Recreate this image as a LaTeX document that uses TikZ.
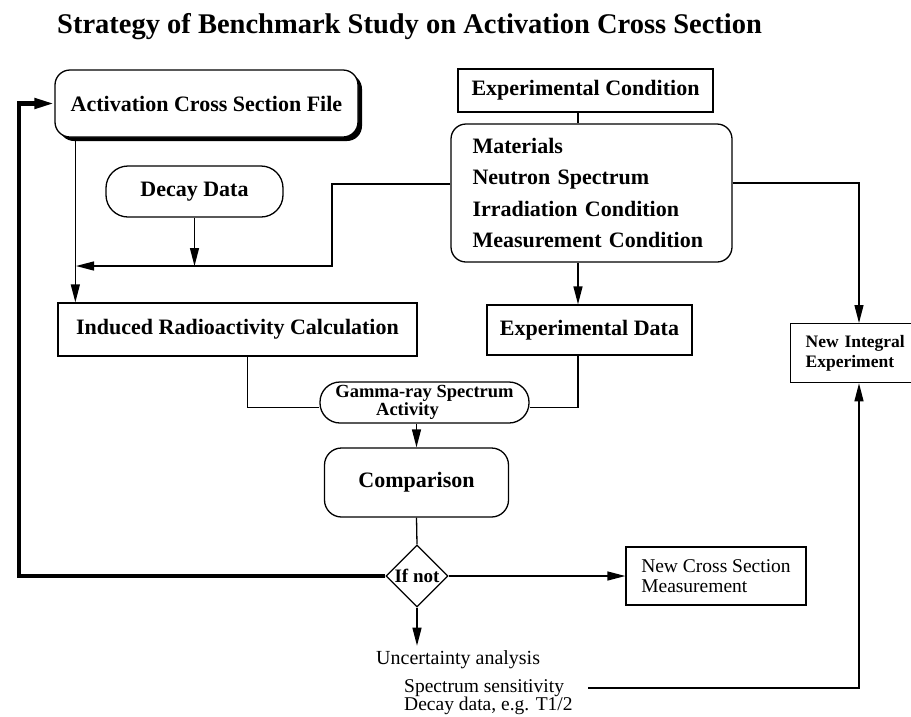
\documentclass[tikz,border=0pt]{standalone}
\usepackage{fontspec}
\setmainfont{Liberation Serif}
\usetikzlibrary{arrows.meta,shapes.geometric,shadows}
\begin{document}
\begin{tikzpicture}[x=1pt,y=-1pt,
  line/.style={line width=1.3pt},
  arr/.style={line width=1.3pt,-{Triangle[length=18pt,width=9pt]}},
  thickarr/.style={line width=4.5pt,-{Triangle[length=20pt,width=10pt]}},
  box/.style={draw,line width=1.3pt,rectangle,inner sep=0pt,fill=white},
  rbox/.style={box,rounded corners=15pt},
  bf/.style={font=\bfseries\fontsize{22}{26}\selectfont},
  rm/.style={font=\fontsize{19.5}{19.5}\selectfont},
  ]
\useasboundingbox (0,0) rectangle (911,716);
\clip (0,0) rectangle (911,716);
\node[anchor=base west, font=\bfseries\fontsize{28.5}{30}\selectfont, inner sep=0pt] (title) at (57,33) {Strategy of Benchmark Study on Activation Cross Section};

\node[rbox, bf, minimum width=303pt, minimum height=67pt,
  drop shadow={shadow xshift=4pt,shadow yshift=-4pt,fill=black,opacity=1}] (acs) at (206.5,103.5) {Activation Cross Section File};
\node[box, bf, rounded corners=22pt, minimum width=177pt, minimum height=51pt] (decay) at (194.5,191.5) {Decay Data};
\node[box, bf, minimum width=255pt, minimum height=43pt] (ec) at (585.5,90.5) {Experimental Condition};
\node[rbox, font=\bfseries\fontsize{22}{31.5}\selectfont, minimum width=281pt, minimum height=138pt,
  text width=238pt, inner xsep=21.5pt, align=left] (mat) at (591.5,193)
  {Materials\\Neutron Spectrum\\Irradiation Condition\\Measurement Condition};
\node[box, bf, minimum width=359pt, minimum height=53pt] (ind) at (237.5,329.5) {Induced Radioactivity Calculation};
\node[box, bf, minimum width=205pt, minimum height=50pt] (ed) at (589.5,330) {Experimental Data};
\node[box, font=\bfseries\fontsize{18.5}{16.5}\selectfont, rounded corners=20pt, minimum width=209pt, minimum height=41pt, align=center] (gam) at (424.5,402.5) {Gamma-ray Spectrum\\Activity\rule{34pt}{0pt}};
\node[box, bf, rounded corners=17pt, minimum width=184pt, minimum height=69pt] (cmp) at (416.5,482.5) {Comparison};
\node[draw, line width=1.3pt, diamond, inner sep=0pt, minimum width=62pt, minimum height=62pt,
  label={[font=\bfseries\fontsize{19}{19}\selectfont]center:If not}] (dia) at (417,576) {};
\node[box, rm, minimum width=180pt, minimum height=58pt, align=left] (ncs) at (716,576) {New Cross Section\\Measurement};
\node[box, font=\bfseries\fontsize{17.5}{19.5}\selectfont, anchor=north west, minimum height=59pt, text width=105pt, inner xsep=15pt, align=left] (ni) at (790,323) {\mbox{New Integral}\\Experiment};

\node[anchor=west, inner sep=0pt, font=\fontsize{20}{20}\selectfont] (unc) at (376,660) {Uncertainty analysis};
\node[rm, anchor=west, inner sep=0pt] (ss) at (404,688) {Spectrum sensitivity};
\node[rm, anchor=west, inner sep=0pt] (dd) at (404,706) {Decay data, e.g. T1/2};

\coordinate (j1) at (76,266);
\coordinate (j2) at (332,266);
\coordinate (fbc) at (19,576);

% connectors
\draw[arr] ([xshift=21pt]acs.south west) -- ([xshift=18pt]ind.north west);
\draw[arr] ([yshift=9pt]mat.west) -| (j2) -- (j1);
\draw[arr] (decay.south) -- (decay.south |- j1);
\draw[line] ([xshift=-7.5pt]ec.south) -- ([xshift=-13.5pt]mat.north);
\draw[arr] ([xshift=-13.5pt]mat.south) -- ([xshift=-11.5pt]ed.north);
\draw[arr] ([yshift=10pt]mat.east) -| ([xshift=69pt]ni.north west);
\draw[line] ([xshift=190pt]ind.south west) |- ([yshift=-5pt]gam.west);
\draw[line] ([xshift=-11.5pt]ed.south) |- ([yshift=-5pt]gam.east);
\draw[arr] (gam.south -| cmp.north) -- (cmp.north);
\draw[line] (cmp.south) -- (dia.north);
\draw[arr] (dia.east) -- (ncs.west);
\draw[arr] (dia.south) -- ([yshift=5pt]dia.south |- unc.north);
\draw[arr] ([xshift=24pt]ss.east) -| ([xshift=69pt]ni.south west);
\draw[thickarr] (dia.west) -- (fbc) |- (acs.west);
\end{tikzpicture}
\end{document}
